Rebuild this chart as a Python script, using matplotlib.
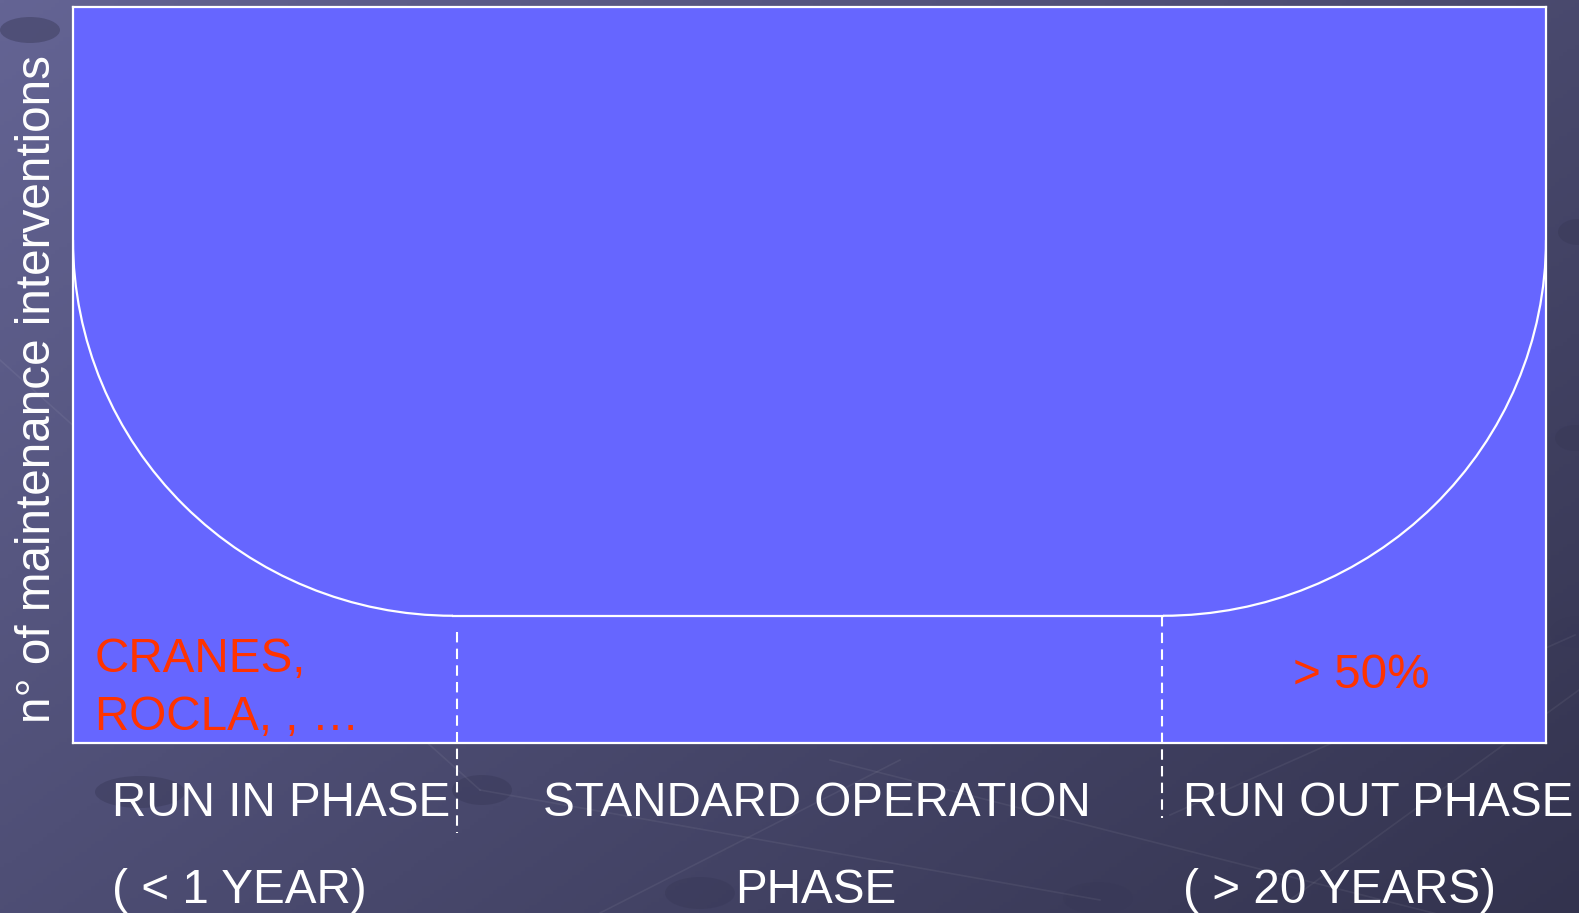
import numpy as np
import matplotlib
matplotlib.use("Agg")
import matplotlib.pyplot as plt
from matplotlib.patches import Arc, Ellipse

# ---- data (normalised axis units) ----
phase_labels_top = ["RUN IN PHASE", "STANDARD OPERATION", "RUN OUT PHASE"]
phase_labels_bottom = ["( < 1 YEAR)", "PHASE", "( > 20 YEARS)"]
run_in_end = 0.258        # end of the left (run-in) arc
run_out_start = 0.740     # start of the right (run-out) arc
divider_x = [0.261, 0.739]  # dashed phase dividers
edge_level = 0.684        # curve level at the axis edges
floor_level = 0.173       # flat level during standard operation
red_notes = ["CRANES,", "ROCLA, , \u2026", "> 50%"]
ylabel = "n\u00b0 of maintenance interventions"

W, H = 1579, 913
plt.rcParams['font.family'] = ['Liberation Sans', 'DejaVu Sans']
fig = plt.figure(figsize=(W / 100, H / 100), dpi=100)

def fx(x):
    return x / W

def fy(y):
    return 1 - y / H

# ---- background gradient ----
bg = fig.add_axes([0, 0, 1, 1])
bg.set_axis_off()
gx, gy = np.meshgrid(np.linspace(0, 1, 400), np.linspace(0, 1, 240))
t = np.clip(0.55 * gx + 0.45 * gy, 0, 1)
c0 = np.array([0x64, 0x64, 0x94]) / 255
c1 = np.array([0x33, 0x33, 0x4e]) / 255
img = c0[None, None, :] * (1 - t[..., None]) + c1[None, None, :] * t[..., None]
bg.imshow(img, extent=[0, 1, 0, 1], aspect='auto', origin='upper')
bg.set_xlim(0, 1)
bg.set_ylim(0, 1)
# faint decorative network lines and bubbles
for (x0, y0, x1, y1) in [(0, 360, 480, 790), (480, 790, 1100, 900), (1170, 815, 1575, 635),
                         (600, 913, 900, 760), (1290, 900, 1579, 690), (830, 760, 1579, 950)]:
    bg.plot([fx(x0), fx(x1)], [fy(y0), fy(y1)], color=(1, 1, 1, 0.06), lw=1.2)
for (x, y, w, h) in [(140, 792, 90, 32), (482, 790, 60, 30), (700, 893, 70, 32),
                     (1098, 898, 70, 32), (1580, 632, 60, 32), (1578, 232, 40, 26),
                     (1575, 438, 40, 26), (30, 30, 60, 26)]:
    bg.add_patch(Ellipse((fx(x), fy(y)), fx(w), h / H, color=(0.22, 0.22, 0.34, 0.45), lw=0))

# ---- main axes ----
ax = fig.add_axes([fx(73), fy(743), fx(1546) - fx(73), fy(7.5) - fy(743)])
ax.set_facecolor('#6666ff')
ax.set_xlim(0, 1)
ax.set_ylim(0, 1)
ax.set_xticks([])
ax.set_yticks([])
for s in ax.spines.values():
    s.set_color('white')
    s.set_linewidth(1.6)

# bathtub curve
ax.add_patch(Arc((run_in_end, edge_level), 2 * run_in_end, 2 * (edge_level - floor_level),
                 theta1=180, theta2=270, color='white', lw=1.6))
ax.add_patch(Arc((run_out_start, edge_level), 2 * (1 - run_out_start), 2 * (edge_level - floor_level),
                 theta1=270, theta2=360, color='white', lw=1.6))
ax.plot([run_in_end, run_out_start], [floor_level, floor_level], color='white', lw=1.6)

# dashed dividers
ax.plot([divider_x[0], divider_x[0]], [0.151, -0.122], color='white', lw=1.5,
        ls=(0, (5, 3)), clip_on=False)
ax.plot([divider_x[1], divider_x[1]], [floor_level, -0.102], color='white', lw=1.5,
        ls=(0, (5, 3)), clip_on=False)

fs = 34.3
red = '#ff3300'
# red notes
fig.text(fx(95), fy(672), red_notes[0], color=red, fontsize=fs, va='baseline', ha='left')
fig.text(fx(95), fy(730), red_notes[1], color=red, fontsize=fs, va='baseline', ha='left')
fig.text(fx(1361), fy(688), red_notes[2], color=red, fontsize=fs, va='baseline', ha='center')

# y label
fig.text(fx(37.5), fy(389), ylabel, color='white', fontsize=fs, rotation=90,
         va='center', ha='center')

# phase labels
fig.text(fx(112), fy(816), phase_labels_top[0], color='white', fontsize=fs, va='baseline', ha='left')
fig.text(fx(112), fy(903), phase_labels_bottom[0], color='white', fontsize=fs, va='baseline', ha='left')
fig.text(fx(817), fy(816), phase_labels_top[1], color='white', fontsize=fs, va='baseline', ha='center')
fig.text(fx(816), fy(903), phase_labels_bottom[1], color='white', fontsize=fs, va='baseline', ha='center')
fig.text(fx(1183), fy(816), phase_labels_top[2], color='white', fontsize=fs, va='baseline', ha='left')
fig.text(fx(1183), fy(903), phase_labels_bottom[2], color='white', fontsize=fs, va='baseline', ha='left')

fig.savefig("out.png", dpi=100)
